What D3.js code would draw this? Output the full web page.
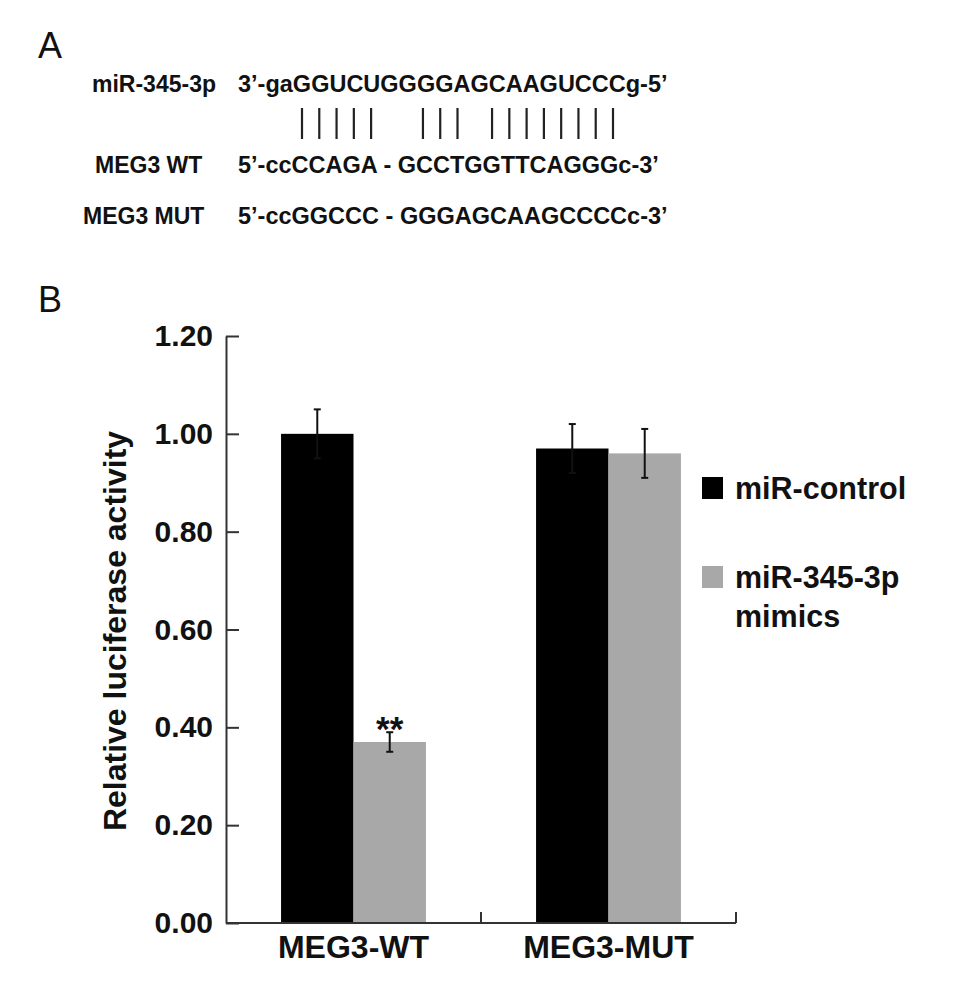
<!DOCTYPE html>
<html>
<head>
<meta charset="utf-8">
<script src="https://cdn.jsdelivr.net/npm/d3@7"></script>
<style>
  html, body { margin: 0; padding: 0; background: #fff; }
  svg { display: block; }
  text { font-family: "Liberation Sans", Arial, Helvetica, sans-serif; fill: #111; }
</style>
</head>
<body>
<svg id="chart" width="969" height="999"></svg>
<script>
// ---------- Panel A data ----------
const seqLabels = ["miR-345-3p", "MEG3 WT", "MEG3 MUT"];
const sequences = [
  "3\u2019-gaGGUCUGGGGAGCAAGUCCCg-5\u2019",
  "5\u2019-ccCCAGA - GCCTGGTTCAGGGc-3\u2019",
  "5\u2019-ccGGCCC - GGGAGCAAGCCCCc-3\u2019"
];
// positions (nucleotide slots) where base-pairing bars are drawn
const pairSlots = [0, 1, 2, 3, 4, 7, 8, 9, 11, 12, 13, 14, 15, 16, 17, 18];

// ---------- Panel B data ----------
const categories = ["MEG3-WT", "MEG3-MUT"];
const seriesNames = ["miR-control", "miR-345-3p mimics"];
const controlValues = [1.00, 0.97];
const controlErrors = [0.05, 0.05];
const mimicsValues = [0.37, 0.96];
const mimicsErrors = [0.02, 0.05];
const significance = ["**", ""];
const yTicks = [0.00, 0.20, 0.40, 0.60, 0.80, 1.00, 1.20];
const seriesColors = ["#000000", "#a8a8a8"];

const svg = d3.select("#chart");
const FONT = "\"Liberation Sans\", Arial, Helvetica, sans-serif";

// ================= Panel A =================
svg.append("text").attr("x", 38).attr("y", 58)
  .attr("font-size", 36).text("A");

const labelX = [92, 95, 83];
const rowY = [92, 173, 224];
const seqX = [238, 238, 238];

svg.selectAll("text.seqlabel").data(seqLabels).join("text")
  .attr("class", "seqlabel")
  .attr("x", (d, i) => labelX[i]).attr("y", (d, i) => rowY[i])
  .attr("font-size", 23).attr("font-weight", "bold").text(d => d);

svg.selectAll("text.seq").data(sequences).join("text")
  .attr("class", "seq")
  .attr("x", (d, i) => seqX[i]).attr("y", (d, i) => rowY[i])
  .attr("font-size", 23.5).attr("font-weight", "bold").text(d => d);

const slotScale = d3.scaleLinear().domain([0, 18]).range([302, 613]);
svg.selectAll("line.pair").data(pairSlots).join("line")
  .attr("class", "pair")
  .attr("x1", d => slotScale(d)).attr("x2", d => slotScale(d))
  .attr("y1", 108).attr("y2", 139)
  .attr("stroke", "#222").attr("stroke-width", 2.2);

// ================= Panel B =================
svg.append("text").attr("x", 38).attr("y", 312)
  .attr("font-size", 36).text("B");

const y = d3.scaleLinear().domain([0, 1.2]).range([923, 336]);
const x0 = d3.scaleBand().domain(categories).range([226, 736]).padding(0);
const x1 = d3.scaleBand().domain(seriesNames).range([0, x0.bandwidth()])
  .paddingInner(0).paddingOuter(0.76);

const rows = categories.map((c, i) => ({
  cat: c,
  bars: [
    { s: seriesNames[0], v: controlValues[i], e: controlErrors[i], color: seriesColors[0] },
    { s: seriesNames[1], v: mimicsValues[i], e: mimicsErrors[i], color: seriesColors[1] }
  ],
  sig: significance[i]
}));

const groups = svg.selectAll("g.grp").data(rows).join("g")
  .attr("class", "grp")
  .attr("transform", d => `translate(${x0(d.cat)},0)`);

groups.selectAll("rect").data(d => d.bars).join("rect")
  .attr("x", d => x1(d.s))
  .attr("width", x1.bandwidth())
  .attr("y", d => y(d.v))
  .attr("height", d => y(0) - y(d.v))
  .attr("fill", d => d.color);

// error bars
const eb = groups.selectAll("g.err").data(d => d.bars).join("g").attr("class", "err");
const ebStroke = "#111";
eb.append("line")
  .attr("x1", d => x1(d.s) + x1.bandwidth() / 2).attr("x2", d => x1(d.s) + x1.bandwidth() / 2)
  .attr("y1", d => y(d.v + d.e)).attr("y2", d => y(d.v - d.e))
  .attr("stroke", ebStroke).attr("stroke-width", 2);
eb.append("line")
  .attr("x1", d => x1(d.s) + x1.bandwidth() / 2 - 3.5).attr("x2", d => x1(d.s) + x1.bandwidth() / 2 + 3.5)
  .attr("y1", d => y(d.v + d.e)).attr("y2", d => y(d.v + d.e))
  .attr("stroke", ebStroke).attr("stroke-width", 2);
eb.append("line")
  .attr("x1", d => x1(d.s) + x1.bandwidth() / 2 - 3.5).attr("x2", d => x1(d.s) + x1.bandwidth() / 2 + 3.5)
  .attr("y1", d => y(d.v - d.e)).attr("y2", d => y(d.v - d.e))
  .attr("stroke", ebStroke).attr("stroke-width", 2);

// significance marks above the mimics bar
groups.append("text")
  .attr("x", x1(seriesNames[1]) + x1.bandwidth() / 2)
  .attr("y", d => y(d.bars[1].v + d.bars[1].e) + 9)
  .attr("text-anchor", "middle")
  .attr("font-size", 35).attr("font-weight", "bold")
  .text(d => d.sig);

// Y axis
const yAxis = svg.append("g").attr("transform", "translate(226,0)")
  .call(d3.axisLeft(y).tickValues(yTicks).tickFormat(d3.format(".2f"))
    .tickSizeInner(-13).tickSizeOuter(0).tickPadding(13));
yAxis.select(".domain").attr("stroke", "#333").attr("stroke-width", 2);
yAxis.selectAll(".tick line").attr("stroke", "#333").attr("stroke-width", 2);
yAxis.selectAll(".tick text")
  .attr("font-family", FONT).attr("font-size", 30).attr("font-weight", "bold").attr("fill", "#111");

// X axis
const xAxis = svg.append("g");
xAxis.append("line")
  .attr("x1", x0.range()[0]).attr("x2", x0.range()[1])
  .attr("y1", y(0)).attr("y2", y(0))
  .attr("stroke", "#333").attr("stroke-width", 2);
xAxis.selectAll("line.xt").data(categories).join("line")
  .attr("class", "xt")
  .attr("x1", d => x0(d) + x0.bandwidth()).attr("x2", d => x0(d) + x0.bandwidth())
  .attr("y1", y(0)).attr("y2", y(0) - 11)
  .attr("stroke", "#333").attr("stroke-width", 2);
xAxis.selectAll("text.xl").data(categories).join("text")
  .attr("class", "xl")
  .attr("x", d => x0(d) + x0.bandwidth() / 2).attr("y", 958)
  .attr("text-anchor", "middle")
  .attr("font-size", 32).attr("font-weight", "bold").text(d => d);

// Y axis title
svg.append("text")
  .attr("transform", "translate(126,631) rotate(-90)")
  .attr("text-anchor", "middle")
  .attr("font-size", 32).attr("font-weight", "bold")
  .text("Relative luciferase activity");

// Legend
const legendItems = [
  { lines: ["miR-control"], color: seriesColors[0], y: 499 },
  { lines: ["miR-345-3p", "mimics"], color: seriesColors[1], y: 588 }
];
const lg = svg.selectAll("g.leg").data(legendItems).join("g").attr("class", "leg");
lg.append("rect")
  .attr("x", 702).attr("y", d => d.y - 22).attr("width", 21).attr("height", 22)
  .attr("fill", d => d.color);
lg.append("text")
  .attr("x", 735).attr("y", d => d.y)
  .attr("font-size", 30.5).attr("font-weight", "bold")
  .selectAll("tspan").data(d => d.lines).join("tspan")
  .attr("x", 735).attr("dy", (d, i) => i === 0 ? 0 : 39)
  .text(d => d);
</script>
</body>
</html>
